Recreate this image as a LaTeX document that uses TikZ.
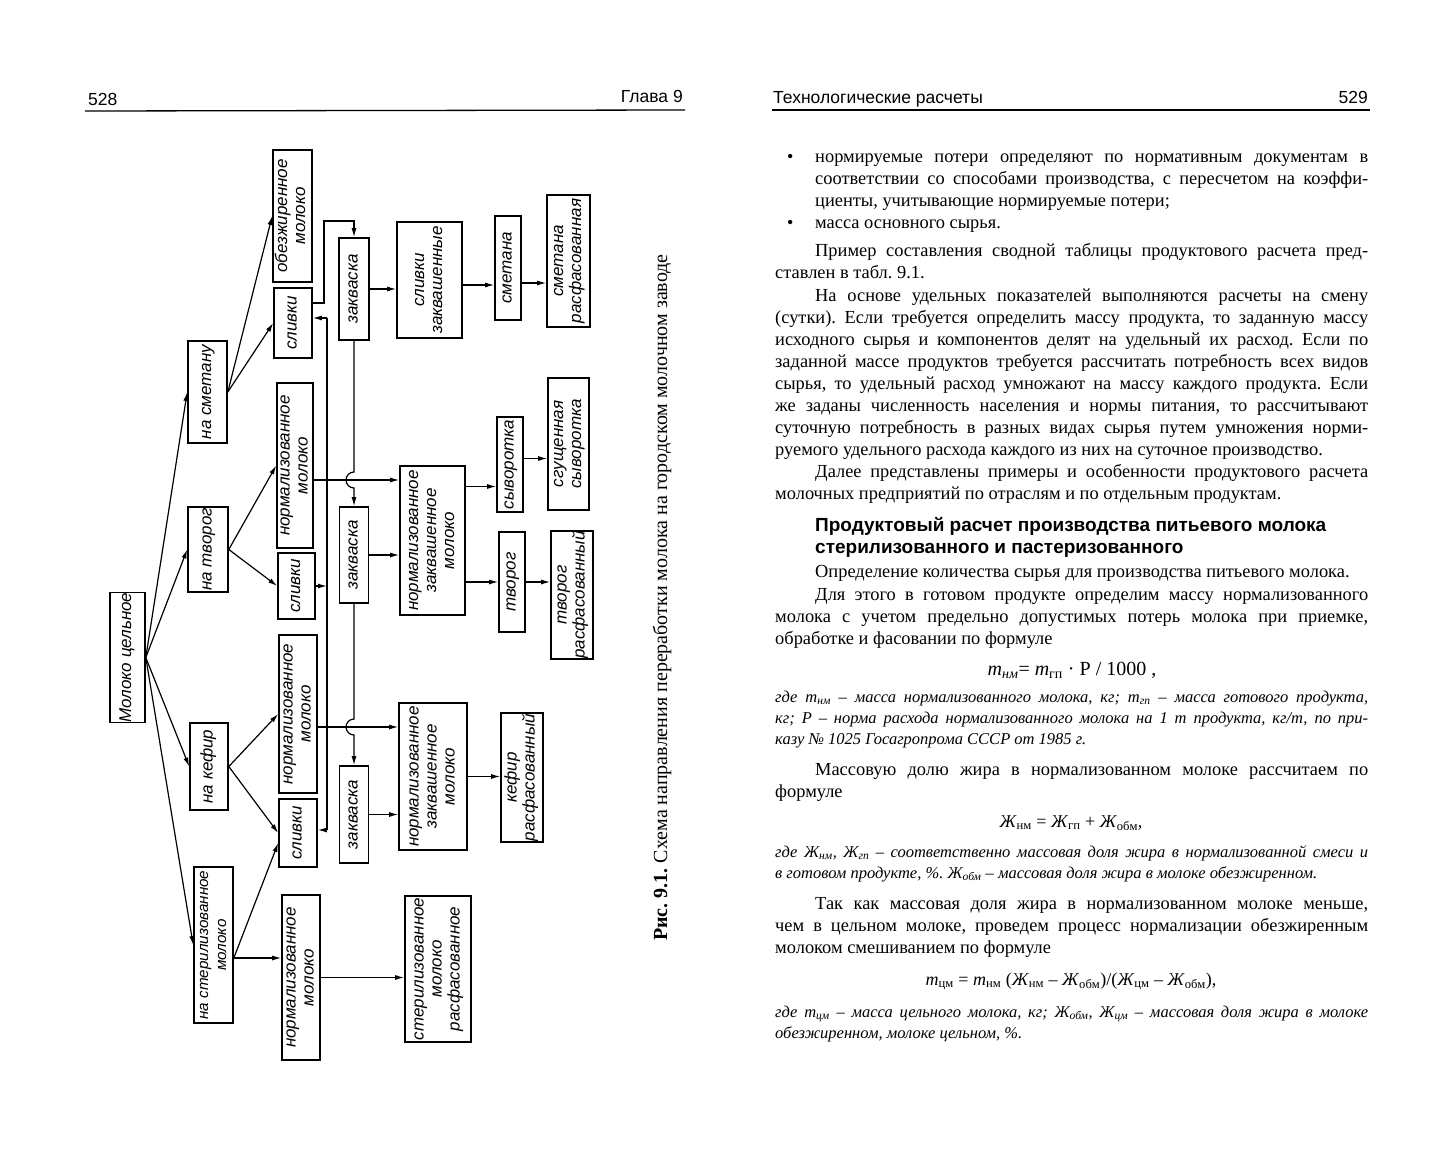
\documentclass[tikz,border=0pt]{standalone}
\usepackage{fontspec}
\setmainfont{Liberation Serif}
\setsansfont{Liberation Sans}
\newfontfamily\schemefont{Liberation Sans}
\usetikzlibrary{arrows.meta}

\hyphenpenalty=10000
\emergencystretch=20pt
\frenchspacing

% vertical text in a box
\newcommand{\vt}[1]{\rotatebox{90}{\begin{tabular}{@{}c@{}}#1\end{tabular}}}
\newcommand{\sbs}[1]{\textsubscript{#1}}
\newcommand{\ind}{\hspace*{40pt}}

\tikzset{
  blk/.style={draw, line width=1.6pt, inner sep=0pt,
    font=\schemefont\itshape\fontsize{17}{18}\selectfont},
  arr/.style={-{Latex[length=9pt,width=5pt]}, line width=1.2pt},
  ln/.style={line width=1.2pt},
  rule/.style={line width=1.3pt},
  txt/.style={anchor=base west, inner sep=0pt, text width=593pt, align=justify,
    font=\fontsize{18.4}{22}\selectfont},
  note/.style={txt, font=\itshape\fontsize{16.5}{21}\selectfont},
  formula/.style={anchor=base, inner sep=0pt, font=\fontsize{18}{22}\selectfont},
  head/.style={anchor=base west, inner sep=0pt, font=\sffamily\fontsize{17.5}{20}\selectfont},
}

\begin{document}
\begin{tikzpicture}[x=1pt, y=-1pt]
    \useasboundingbox (0,0) rectangle (1456,1162);

    % Колонтитулы
    \node[head] (pleft) at (88,105) {528};
    \node[head, anchor=base east] (chap) at (683,102) {Глава 9};
    \draw[rule] (85,111) -- (685,110);
    \node[head] (runhead) at (773,103) {Технологические расчеты};
    \node[head, anchor=base east] (pright) at (1368,103) {529};
    \draw[rule] (772,110) -- (1370,110);

    % Схема: сырье и направления
    \node[blk, minimum width=35pt, minimum height=129pt] (whole) at (127.5,657.5) {\vt{Молоко цельное}};
    \node[blk, minimum width=39pt, minimum height=102pt] (smet) at (207.5,392) {\vt{на сметану}};
    \node[blk, minimum width=40pt, minimum height=85pt] (tvor) at (208,549.5) {\vt{на творог}};
    \node[blk, minimum width=38pt, minimum height=87pt] (kef) at (209,766.5) {\vt{на кефир}};
    \node[blk, minimum width=39pt, minimum height=156pt, font=\schemefont\itshape\fontsize{15.2}{18}\selectfont]
        (ster) at (213.5,945) {\vt{на стерилизованное\\молоко}};

    % Схема: сепарирование и нормализация
    \node[blk, minimum width=39pt, minimum height=132pt] (obez) at (292.5,216) {\vt{обезжиренное\\молоко}};
    \node[blk, minimum width=38pt, minimum height=70pt] (sliv1) at (293,323) {\vt{сливки}};
    \node[blk, minimum width=36pt, minimum height=165pt] (norm1) at (295,465.5) {\vt{нормализованное\\молоко}};
    \node[blk, minimum width=37pt, minimum height=66pt] (sliv2) at (296.5,586) {\vt{сливки}};
    \node[blk, minimum width=38pt, minimum height=158pt] (norm2) at (298,714) {\vt{нормализованное\\молоко}};
    \node[blk, minimum width=38pt, minimum height=68pt] (sliv3) at (298,833) {\vt{сливки}};
    \node[blk, minimum width=38pt, minimum height=165pt] (norm3) at (301,977.5) {\vt{нормализованное\\молоко}};

    % Схема: закваска
    \node[blk, minimum width=30pt, minimum height=102pt] (zakv1) at (354,289) {\vt{закваска}};
    \node[blk, minimum width=29pt, minimum height=96pt] (zakv2) at (354,555) {\vt{закваска}};
    \node[blk, minimum width=29pt, minimum height=97pt] (zakv3) at (354,814.5) {\vt{закваска}};

    % Схема: заквашивание
    \node[blk, minimum width=65pt, minimum height=116pt] (slzakv) at (429.5,280) {\vt{сливки\\заквашенные}};
    \node[blk, minimum width=65pt, minimum height=149pt] (nzm1) at (432.5,540.5) {\vt{нормализованное\\заквашенное\\молоко}};
    \node[blk, minimum width=68pt, minimum height=147pt] (nzm2) at (433,776.5) {\vt{нормализованное\\заквашенное\\молоко}};
    \node[blk, minimum width=66pt, minimum height=146pt] (sterras) at (438,969) {\vt{стерилизованное\\молоко\\расфасованное}};

    % Схема: продукты
    \node[blk, minimum width=26pt, minimum height=104pt] (smetana) at (508,268) {\vt{сметана}};
    \node[blk, minimum width=26pt, minimum height=95pt] (syv) at (510,464.5) {\vt{сыворотка}};
    \node[blk, minimum width=26pt, minimum height=100pt] (tvorog) at (512,582) {\vt{творог}};
    \node[blk, minimum width=42pt, minimum height=129pt] (kefras) at (522,777.5) {\vt{кефир\\расфасованный}};
    \node[blk, minimum width=43pt, minimum height=132pt] (smetras) at (568.5,261) {\vt{сметана\\расфасованная}};
    \node[blk, minimum width=41pt, minimum height=132pt] (sgusch) at (568.5,444) {\vt{сгущенная\\сыворотка}};
    \node[blk, minimum width=42pt, minimum height=126pt] (tvorras) at (572,595) {\vt{творог\\расфасованный}};

    % Точки излома
    \coordinate (turn) at (324,221);
    \coordinate (bustop) at (327,318);
    \coordinate (busbot) at (327,830);
    \coordinate (hop1) at (354,472);
    \coordinate (hop2) at (354,719);

    % Связи
    \foreach \dst in {smet, tvor, kef, ster}
        \draw[arr] (whole.east) -- (\dst.west);
    \draw[arr] (smet.east) -- (obez.west);
    \draw[arr] (smet.east) -- (sliv1.west);
    \draw[arr] (tvor.east) -- (norm1.west);
    \draw[arr] (tvor.east) -- (sliv2.west);
    \draw[arr] (kef.east) -- (norm2.west);
    \draw[arr] (kef.east) -- (sliv3.west);
    \draw[arr] ([yshift=-13pt]ster.east) -- ([yshift=-10pt]sliv3.west);
    \draw[arr] ([yshift=-13pt]ster.east) -- ([yshift=-13pt]ster.east -| norm3.west);

    \draw[arr] ([yshift=20pt]sliv1.east) -| (turn) -- (turn -| zakv1.north) -- (zakv1.north);
    \draw[ln] (bustop) -- (busbot);
    \draw[arr] (bustop) -- (bustop -| sliv1.east);
    \draw[arr] (busbot) -- (busbot -| sliv3.east);
    \draw[arr] (sliv2.east) -- (sliv2.east -| bustop);

    \draw[arr] (zakv1.south) -- (hop1) arc[start angle=90, end angle=270, radius=8pt] -- (zakv2.north);
    \draw[arr] (zakv2.south) -- (hop2) arc[start angle=90, end angle=270, radius=8pt] -- (zakv3.north);
    \draw[arr] ([yshift=-14.5pt]norm1.east) -- ([yshift=-14.5pt]norm1.east -| nzm1.west);
    \draw[arr] ([yshift=-13pt]norm2.east) -- ([yshift=-13pt]norm2.east -| nzm2.west);
    \draw[arr] (norm3.east) -- (norm3.east -| sterras.west);

    \draw[arr] (zakv1.east) -- (zakv1.east -| slzakv.west);
    \draw[arr] (zakv2.east) -- (zakv2.east -| nzm1.west);
    \draw[arr] (zakv3.east) -- (zakv3.east -| nzm2.west);

    \draw[arr] ([yshift=-5pt]slzakv.east) -- ([yshift=-5pt]slzakv.east -| smetana.west);
    \draw[arr] ([yshift=-15pt]smetana.east) -- ([yshift=-15pt]smetana.east -| smetras.west);
    \draw[arr] ([yshift=-22pt]syv.west -| nzm1.east) -- ([yshift=-22pt]syv.west);
    \draw[arr] ([yshift=6pt]syv.east) -- ([yshift=6pt]syv.east -| sgusch.west);
    \draw[arr] (tvorog.west -| nzm1.east) -- (tvorog.west);
    \draw[arr] (tvorog.east) -- (tvorog.east -| tvorras.west);
    \draw[arr] (nzm2.east) -- (nzm2.east -| kefras.west);

    % Подпись к рисунку
    \node[rotate=90, anchor=base west, inner sep=0pt, font=\fontsize{20}{22}\selectfont] (caption) at (667,941)
        {\textbf{Рис. 9.1.} Схема направления переработки молока на городском молочном заводе};

    % Текст правой страницы
    \node[anchor=base west, inner sep=0pt, font=\fontsize{18}{22}\selectfont] (dot1) at (787,162) {•};
    \node[txt, text width=553pt] (item1) at (815,162) {нормируемые потери определяют по нормативным документам в\linebreak
        соответствии со способами производства, с пересчетом на коэффи-\linebreak
        циенты, учитывающие нормируемые потери;};
    \node[anchor=base west, inner sep=0pt, font=\fontsize{18}{22}\selectfont] (dot2) at (787,228) {•};
    \node[txt, text width=553pt] (item2) at (815,228) {масса основного сырья.};

    \node[txt] (para1) at (775,256) {\ind Пример составления сводной таблицы продуктового расчета пред-\linebreak
        ставлен в табл. 9.1.};
    \node[txt] (para2) at (775,301) {\ind На основе удельных показателей выполняются расчеты на смену\linebreak
        (сутки). Если требуется определить массу продукта, то заданную массу\linebreak
        исходного сырья и компонентов делят на удельный их расход. Если по\linebreak
        заданной массе продуктов требуется рассчитать потребность всех видов\linebreak
        сырья, то удельный расход умножают на массу каждого продукта. Если\linebreak
        же заданы численность населения и нормы питания, то рассчитывают\linebreak
        суточную потребность в разных видах сырья путем умножения норми-\linebreak
        руемого удельного расхода каждого из них на суточное производство.};
    \node[txt] (para3) at (775,477) {\ind Далее представлены примеры и особенности продуктового расчета\linebreak
        молочных предприятий по отраслям и по отдельным продуктам.};

    \node[anchor=base west, inner sep=0pt, align=left, font=\sffamily\bfseries\fontsize{19}{22}\selectfont] (heading) at (815,553)
        {Продуктовый расчет производства питьевого молока\\стерилизованного и пастеризованного};

    \node[txt] (para4) at (775,577) {\ind Определение количества сырья для производства питьевого молока.};
    \node[txt] (para5) at (775,600) {\ind Для этого в готовом продукте определим массу нормализованного\linebreak
        молока с учетом предельно допустимых потерь молока при приемке,\linebreak
        обработке и фасовании по формуле};
    \node[formula, font=\fontsize{20}{22}\selectfont] (form1) at (1072,675) {\textit{m}\sbs{\textit{нм}}= \textit{m}\sbs{гп} · P / 1000 ,};
    \node[note] (note1) at (775,702) {где \textit{m}\sbs{нм} – масса нормализованного молока, кг; \textit{m}\sbs{гп} – масса готового продукта,\linebreak
        кг; P – норма расхода нормализованного молока на 1 т продукта, кг/т, по при-\linebreak
        казу № 1025 Госагропрома СССР от 1985 г.};

    \node[txt] (para6) at (775,775) {\ind Массовую долю жира в нормализованном молоке рассчитаем по\linebreak
        формуле};
    \node[formula] (form2) at (1071,827) {\textit{Ж}\sbs{нм} = \textit{Ж}\sbs{гп} + \textit{Ж}\sbs{обм},};
    \node[note] (note2) at (775,857) {где Ж\sbs{нм}, Ж\sbs{гп} – соответственно массовая доля жира в нормализованной смеси и\linebreak
        в готовом продукте, \%. Ж\sbs{обм} – массовая доля жира в молоке обезжиренном.};

    \node[txt] (para7) at (775,909) {\ind Так как массовая доля жира в нормализованном молоке меньше,\linebreak
        чем в цельном молоке, проведем процесс нормализации обезжиренным\linebreak
        молоком смешиванием по формуле};
    \node[formula] (form3) at (1071,985) {\textit{m}\sbs{цм} = \textit{m}\sbs{нм} (\textit{Ж}\sbs{нм} – \textit{Ж}\sbs{обм})/(\textit{Ж}\sbs{цм} – \textit{Ж}\sbs{обм}),};
    \node[note] (note3) at (775,1017) {где \textit{m}\sbs{цм} – масса цельного молока, кг; Ж\sbs{обм}, Ж\sbs{цм} – массовая доля жира в молоке\linebreak
        обезжиренном, молоке цельном, \%.};
\end{tikzpicture}
\end{document}
